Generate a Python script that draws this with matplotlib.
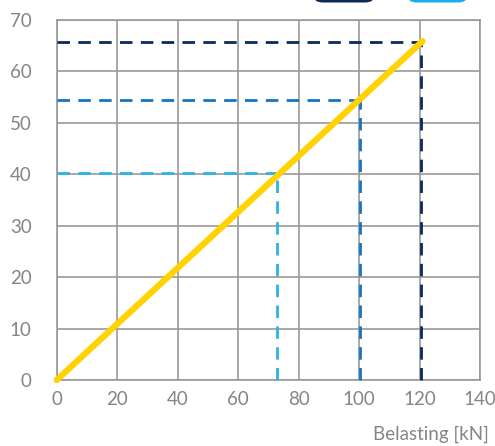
import matplotlib
matplotlib.use("Agg")
import matplotlib.pyplot as plt
from matplotlib.patches import FancyBboxPatch

# Data
load_kn = [0, 121]
line_vals = [0, 65.8]
marker_x = [73, 100.3, 120.5]
marker_y = [40.1, 54.4, 65.6]
marker_colors = ["#2bb3ea", "#1574c4", "#0c2a56"]
x_ticks = [0, 20, 40, 60, 80, 100, 120, 140]
y_ticks = [0, 10, 20, 30, 40, 50, 60, 70]
x_label = "Belasting [kN]"

plt.rcParams['font.family'] = ['Lato', 'DejaVu Sans']

W, H = 495, 446
fig = plt.figure(figsize=(W/100, H/100), dpi=100)
ax = fig.add_axes([56.7/W, 1-380/H, (480-56.7)/W, (380-19.5)/H])

ax.set_xlim(0, 140)
ax.set_ylim(0, 70)
ax.set_xticks(x_ticks)
ax.set_yticks(y_ticks)
ax.grid(True, color="#999999", linewidth=1.2)
ax.set_axisbelow(True)
for s in ax.spines.values():
    s.set_color("#999999")
    s.set_linewidth(1.2)
ax.tick_params(length=0, labelsize=13.5, labelcolor="#858585")
ax.tick_params(axis="y", pad=18)
ax.tick_params(axis="x", pad=8)

for mx, my, c in zip(marker_x, marker_y, marker_colors):
    ax.plot([0, mx], [my, my], color=c, lw=2, ls=(0, (4.5, 3)), zorder=3, clip_on=False)
    ax.plot([mx, mx], [0, my], color=c, lw=2, ls=(0, (4.5, 3)), zorder=3, clip_on=False)

ax.plot(load_kn, line_vals, color="#ffd200", lw=4.5, solid_capstyle="round", zorder=4, clip_on=False)

fig.text(489/W, 1-434/H, x_label, ha="right", va="center", fontsize=13.5,
         color="#858585")

# Partially visible legend buttons at top
for x0, x1, c in [(313, 375, "#0c2a56"), (407, 468, "#18aeea")]:
    p = FancyBboxPatch((x0/W, 1-2.5/H), (x1-x0)/W, 30/H,
                       boxstyle="round,pad=0,rounding_size=0.02",
                       transform=fig.transFigure, facecolor=c, edgecolor="none",
                       mutation_aspect=H/W)
    fig.patches.append(p)

fig.savefig("out.png", dpi=100)
